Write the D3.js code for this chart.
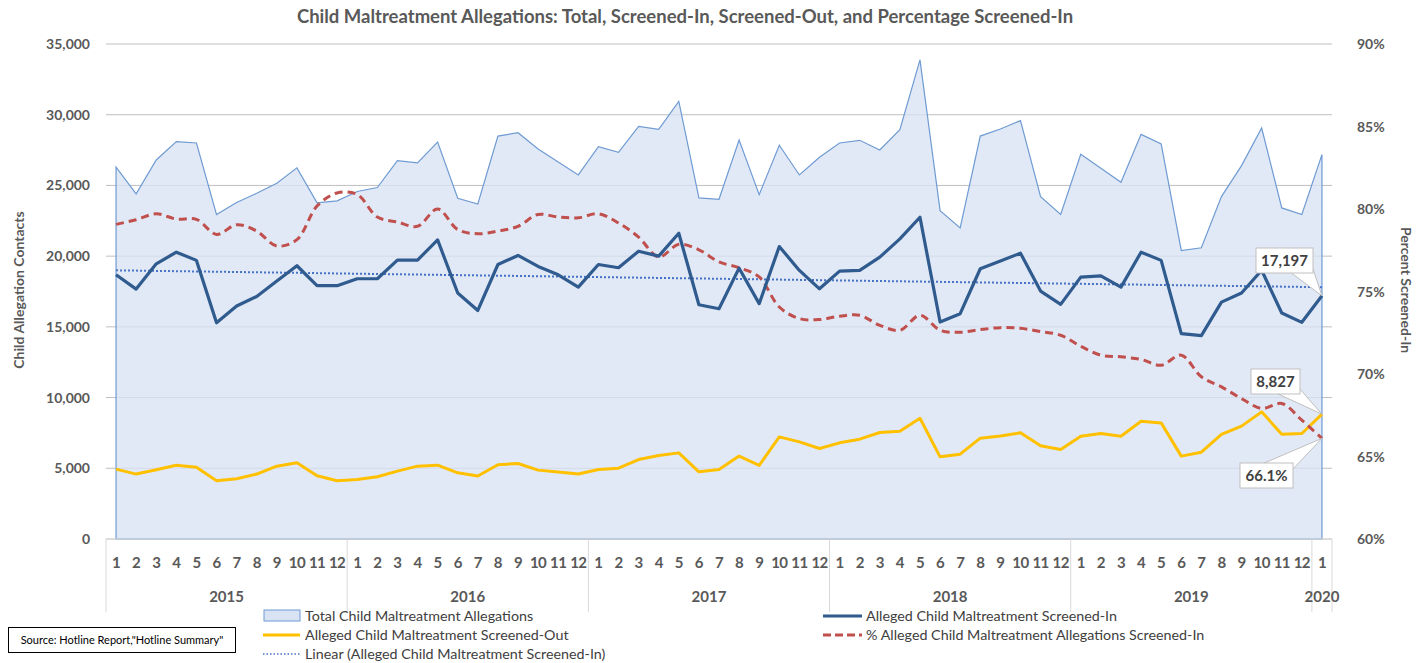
<!DOCTYPE html>
<html>
<head>
<meta charset="utf-8">
<script src="https://cdn.jsdelivr.net/npm/d3@7"></script>
<style>
  body { margin: 0; background: #fff; }
  text { font-family: Lato, "Liberation Sans", sans-serif; }
</style>
</head>
<body>
<div id="chart"></div>
<script>
var years = ["2015", "2016", "2017", "2018", "2019", "2020"];
var monthLabels = ["1","2","3","4","5","6","7","8","9","10","11","12"];

var total = [26300, 24400, 26800, 28100, 28000, 22940, 23790, 24450, 25150, 26240, 23770, 23910,
  24570, 24850, 26750, 26590, 28070, 24090, 23690, 28490, 28730, 27580, 26660, 25740,
  27740, 27340, 29180, 28970, 30940, 24120, 24020, 28210, 24350, 27840, 25740, 26990,
  28000, 28190, 27510, 28940, 33880, 23220, 22000, 28490, 28990, 29580, 24210, 22940,
  27200, 26210, 25220, 28610, 27930, 20400, 20590, 24210, 26400, 29060, 23410, 22940, 27180];

var screenedIn = [18680, 17670, 19460, 20280, 19700, 15290, 16470, 17150, 18240, 19320, 17910, 17910,
  18400, 18400, 19720, 19720, 21150, 17390, 16160, 19410, 20050, 19270, 18680, 17810,
  19410, 19180, 20350, 20000, 21620, 16560, 16280, 19150, 16640, 20680, 18990, 17690,
  18940, 18990, 19930, 21220, 22750, 15340, 15930, 19110, 19650, 20210, 17530, 16590,
  18520, 18610, 17810, 20280, 19700, 14520, 14380, 16750, 17390, 19000, 15980, 15320, 17197];

var screenedOut = [4940, 4590, 4890, 5220, 5080, 4120, 4260, 4590, 5150, 5390, 4470, 4120,
  4210, 4400, 4800, 5150, 5220, 4680, 4450, 5250, 5340, 4870, 4730, 4590,
  4920, 5010, 5620, 5910, 6090, 4750, 4920, 5860, 5200, 7220, 6870, 6400,
  6800, 7060, 7530, 7620, 8540, 5810, 6000, 7130, 7290, 7510, 6590, 6330,
  7270, 7460, 7270, 8330, 8210, 5860, 6140, 7390, 7980, 8990, 7410, 7460, 8827];

var pctIn = [79.07, 79.35, 79.71, 79.39, 79.37, 78.46, 79.05, 78.66, 77.76, 78.14, 80.18, 80.97,
  80.88, 79.51, 79.21, 78.95, 80.0, 78.75, 78.5, 78.66, 78.95, 79.67, 79.51, 79.47,
  79.71, 79.15, 78.3, 77.09, 77.86, 77.53, 76.79, 76.44, 75.88, 74.06, 73.36, 73.3,
  73.5, 73.56, 72.95, 72.65, 73.56, 72.65, 72.53, 72.69, 72.81, 72.77, 72.57, 72.35,
  71.68, 71.14, 71.04, 70.88, 70.53, 71.14, 69.83, 69.22, 68.51, 67.91, 68.21, 67.2, 66.1];

var leftTicks = [0, 5000, 10000, 15000, 20000, 25000, 30000, 35000];
var rightTicks = [60, 65, 70, 75, 80, 85, 90];

// month categories: 12 per year, then Jan 2020
var cats = [];
years.forEach(function(yr) {
  var n = (yr === "2020") ? 1 : 12;
  for (var m = 0; m < n; m++) cats.push({ year: yr, month: monthLabels[m] });
});

var width = 1426, height = 663;
var plotL = 106, plotR = 1332, plotT = 44, plotB = 539;

var svg = d3.select('#chart').append('svg')
  .attr('width', width).attr('height', height);

var x = d3.scaleBand().domain(d3.range(cats.length)).range([plotL, plotR]).padding(0);
var cx = function(i) { return x(i) + x.bandwidth() / 2; };
var y = d3.scaleLinear().domain([0, 35000]).range([plotB, plotT]);
var yp = d3.scaleLinear().domain([60, 90]).range([plotB, plotT]);

var grey = '#595959';

// title
svg.append('text')
  .attr('x', 685).attr('y', 23)
  .attr('text-anchor', 'middle')
  .attr('font-size', 18.5).attr('font-weight', 'bold')
  .attr('fill', grey)
  .text('Child Maltreatment Allegations: Total, Screened-In, Screened-Out, and Percentage Screened-In');

// gridlines
svg.append('g').selectAll('line').data(leftTicks).enter().append('line')
  .attr('x1', plotL).attr('x2', plotR)
  .attr('y1', function(d) { return y(d); }).attr('y2', function(d) { return y(d); })
  .attr('stroke', '#bfbfbf').attr('stroke-width', 1);

// total area
var area = d3.area()
  .x(function(d, i) { return cx(i); })
  .y0(y(0))
  .y1(function(d) { return y(d); });
svg.append('path').datum(total)
  .attr('d', area)
  .attr('fill', '#dae3f3').attr('fill-opacity', 0.78)
  .attr('stroke', '#6f9bd3').attr('stroke-width', 1.2);

// linear trend of screened-in
var xs = d3.range(screenedIn.length);
var mx = d3.mean(xs), my = d3.mean(screenedIn);
var slope = d3.sum(xs, function(i) { return (i - mx) * (screenedIn[i] - my); }) /
            d3.sum(xs, function(i) { return (i - mx) * (i - mx); });
var icpt = my - slope * mx;
svg.append('line')
  .attr('x1', cx(0)).attr('y1', y(icpt))
  .attr('x2', cx(xs.length - 1)).attr('y2', y(icpt + slope * (xs.length - 1)))
  .attr('stroke', '#4472c4').attr('stroke-width', 2)
  .attr('stroke-dasharray', '2,2');

var line = d3.line().x(function(d, i) { return cx(i); }).y(function(d) { return y(d); });

svg.append('path').datum(screenedOut)
  .attr('d', line).attr('fill', 'none')
  .attr('stroke', '#ffc000').attr('stroke-width', 3).attr('stroke-linejoin', 'round');

var pline = d3.line().curve(d3.curveCatmullRom)
  .x(function(d, i) { return cx(i); }).y(function(d) { return yp(d); });
svg.append('path').datum(pctIn)
  .attr('d', pline).attr('fill', 'none')
  .attr('stroke', '#c0504d').attr('stroke-width', 3)
  .attr('stroke-dasharray', '8,5');

svg.append('path').datum(screenedIn)
  .attr('d', line).attr('fill', 'none')
  .attr('stroke', '#2f5b8e').attr('stroke-width', 3.2).attr('stroke-linejoin', 'round');

// left axis labels
svg.append('g').selectAll('text').data(leftTicks).enter().append('text')
  .attr('x', 90).attr('y', function(d) { return y(d) + 5; })
  .attr('text-anchor', 'end')
  .attr('font-size', 14).attr('font-weight', 'bold').attr('fill', grey)
  .text(d3.format(','));

// right axis labels
svg.append('g').selectAll('text').data(rightTicks).enter().append('text')
  .attr('x', 1357).attr('y', function(d) { return yp(d) + 5; })
  .attr('font-size', 14).attr('font-weight', 'bold').attr('fill', grey)
  .text(function(d) { return d + '%'; });

svg.append('text')
  .attr('transform', 'translate(24,290) rotate(-90)')
  .attr('text-anchor', 'middle')
  .attr('font-size', 14).attr('font-weight', 'bold').attr('fill', grey)
  .text('Child Allegation Contacts');

svg.append('text')
  .attr('transform', 'translate(1401,290) rotate(90)')
  .attr('text-anchor', 'middle')
  .attr('font-size', 14).attr('font-weight', 'bold').attr('fill', grey)
  .text('Percent Screened-In');

// category axis
svg.append('line')
  .attr('x1', plotL).attr('x2', plotR).attr('y1', plotB).attr('y2', plotB)
  .attr('stroke', '#d9d9d9');

svg.append('g').selectAll('text').data(cats).enter().append('text')
  .attr('x', function(d, i) { return cx(i); })
  .attr('y', 568)
  .attr('text-anchor', 'middle')
  .attr('font-size', 15).attr('font-weight', 'bold').attr('fill', grey)
  .attr('letter-spacing', -0.6)
  .text(function(d) { return d.month; });

var yearStart = years.map(function(yr) {
  var idx = cats.findIndex(function(c) { return c.year === yr; });
  var n = cats.filter(function(c) { return c.year === yr; }).length;
  return { year: yr, start: idx, n: n };
});

svg.append('g').selectAll('line').data(yearStart.concat([{ start: cats.length }])).enter().append('line')
  .attr('x1', function(d) { return d.start < cats.length ? x(d.start) : plotR; })
  .attr('x2', function(d) { return d.start < cats.length ? x(d.start) : plotR; })
  .attr('y1', plotB).attr('y2', 612)
  .attr('stroke', '#d9d9d9');

svg.append('g').selectAll('text').data(yearStart).enter().append('text')
  .attr('x', function(d) { return x(d.start) + d.n * x.bandwidth() / 2; })
  .attr('y', 602)
  .attr('text-anchor', 'middle')
  .attr('font-size', 15).attr('font-weight', 'bold').attr('fill', grey)
  .text(function(d) { return d.year; });

// callout labels for last points
function callout(px, py, bx, by, bw, bh, baseA, baseB, label) {
  svg.append('path')
    .attr('d', 'M' + baseA[0] + ',' + baseA[1] + 'L' + px + ',' + py + 'L' + baseB[0] + ',' + baseB[1] + 'Z')
    .attr('fill', '#fff').attr('stroke', '#bfbfbf').attr('stroke-width', 1);
  svg.append('rect')
    .attr('x', bx).attr('y', by).attr('width', bw).attr('height', bh)
    .attr('fill', '#fff').attr('stroke', '#bfbfbf').attr('stroke-width', 1);
  svg.append('text')
    .attr('x', bx + bw / 2).attr('y', by + bh / 2 + 5)
    .attr('text-anchor', 'middle')
    .attr('font-size', 15).attr('font-weight', 'bold').attr('fill', '#404040')
    .text(label);
}
var last = cats.length - 1;
var lx = cx(last);
callout(lx, y(screenedIn[last]), 1256, 248, 57, 25, [1290, 272], [1312, 266], d3.format(',')(screenedIn[last]));
callout(lx, y(screenedOut[last]), 1251, 369, 49, 25, [1276, 393], [1299, 388], d3.format(',')(screenedOut[last]));
callout(lx, yp(pctIn[last]), 1240, 463, 53, 25, [1262, 464], [1292, 470], pctIn[last].toFixed(1) + '%');

// legend
var legend = svg.append('g').attr('font-size', 14.3);
function legText(tx, ty, s) {
  legend.append('text').attr('x', tx).attr('y', ty).attr('fill', '#404040').text(s);
}
legend.append('rect').attr('x', 264).attr('y', 610).attr('width', 36).attr('height', 11)
  .attr('fill', '#dae3f3').attr('stroke', '#6f9bd3');
legText(305, 621, 'Total Child Maltreatment Allegations');
legend.append('line').attr('x1', 263).attr('x2', 300).attr('y1', 635).attr('y2', 635)
  .attr('stroke', '#ffc000').attr('stroke-width', 3);
legText(305, 640, 'Alleged Child Maltreatment Screened-Out');
legend.append('line').attr('x1', 263).attr('x2', 300).attr('y1', 654).attr('y2', 654)
  .attr('stroke', '#4472c4').attr('stroke-width', 1.5).attr('stroke-dasharray', '1.5,2');
legText(305, 659, 'Linear (Alleged Child Maltreatment Screened-In)');

legend.append('line').attr('x1', 823).attr('x2', 862).attr('y1', 616).attr('y2', 616)
  .attr('stroke', '#2f5b8e').attr('stroke-width', 3);
legText(866, 621, 'Alleged Child Maltreatment Screened-In');
legend.append('line').attr('x1', 823).attr('x2', 862).attr('y1', 635).attr('y2', 635)
  .attr('stroke', '#c0504d').attr('stroke-width', 3).attr('stroke-dasharray', '8,4');
legText(866, 640, '% Alleged Child Maltreatment Allegations Screened-In');

// source box
svg.append('rect').attr('x', 8.5).attr('y', 627.5).attr('width', 227).attr('height', 25)
  .attr('fill', '#fff').attr('stroke', '#000').attr('stroke-width', 1);
svg.append('text').attr('x', 122).attr('y', 644).attr('text-anchor', 'middle')
  .attr('font-size', 11).attr('fill', '#000')
  .text('Source: Hotline Report,"Hotline Summary"');
</script>
</body>
</html>
